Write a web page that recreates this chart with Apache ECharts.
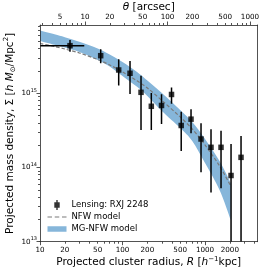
<!DOCTYPE html>
<html><head><meta charset="utf-8">
<script src="https://cdn.jsdelivr.net/npm/echarts@6/dist/echarts.min.js"></script>
<style>html,body{margin:0;padding:0;background:#fff}#c{width:266px;height:272px}</style>
</head><body><div id="c"></div>
<script>
// ---- lensing measurements (R in h^-1 kpc, Sigma in h Msun / Mpc^2) ----
const radius    = [23.1, 54.4, 89.9, 123.3, 167.6, 223.4, 297, 392.6, 514.5, 676.7, 894.4, 1182, 1563, 2067, 2732];
const sigma     = [4.38e15, 3.21e15, 2.06e15, 1.86e15, 1.03e15, 6.68e14, 6.85e14, 9.64e14, 3.68e14, 4.48e14, 2.42e14, 1.87e14, 1.87e14, 7.8e13, 1.37e14];
const sigmaLow  = [3.64e15, 2.54e15, 1.27e15, 9.8e14, 3.2e14, 3.2e14, 3.85e14, 7.24e14, 1.67e14, 2.89e14, 8.6e13, 4.6e13, 5.25e13, 1e12, 1e12];
const sigmaHigh = [5.22e15, 3.92e15, 2.87e15, 2.72e15, 1.72e15, 1.01e15, 9.7e14, 1.2e15, 5.65e14, 6.08e14, 3.94e14, 3.27e14, 3.13e14, 2.08e14, 2.66e14];
const radiusLow  = [5, 54.4, 89.9, 123.3, 167.6, 223.4, 297, 392.6, 514.5, 676.7, 894.4, 1182, 1563, 2067, 2732];
const radiusHigh = [34.4, 54.4, 89.9, 123.3, 167.6, 223.4, 297, 392.6, 514.5, 676.7, 894.4, 1182, 1563, 2067, 2732];

// ---- models ----
const modelRadius = [10, 15, 20, 30, 50, 70, 100, 150, 200, 300, 500, 700, 1000, 1500, 2050];
const nfwSigma = [4.69e15, 4.27e15, 3.95e15, 3.49e15, 2.85e15, 2.41e15, 1.94e15, 1.47e15, 1.18e15, 8.0e14, 4.80e14, 3.30e14, 2.01e14, 1.05e14, 5.63e13];
const mgUpper  = [7.02e15, 6.24e15, 5.70e15, 4.94e15, 4.02e15, 3.33e15, 2.64e15, 1.94e15, 1.49e15, 1.01e15, 5.96e14, 4.10e14, 2.42e14, 1.22e14, 6.18e13];
const mgLower  = [5.07e15, 4.50e15, 4.13e15, 3.60e15, 2.81e15, 2.30e15, 1.71e15, 1.22e15, 9.2e14, 5.78e14, 3.41e14, 2.28e14, 1.15e14, 4.98e13, 1.96e13];

// ---- axes ----
const radiusRange = [10, 4325];
const sigmaRange = [1e13, 8.32e15];
const kpcPerArcsec = 3.51;
const radiusTickLabels = [10, 20, 50, 100, 200, 500, 1000, 2000];
const thetaTickLabels = [5, 10, 20, 50, 100, 200, 500, 1000];
const sigmaTickLabels = [1e13, 1e14, 1e15];

const lg = Math.log10;
const FONT = 'DejaVu Sans';
const LINE = '#262626';
const BAND = '#86b6da';
const NFWCOL = '#7a7a7a';

function logTicks(lo, hi) {
  const major = [], minor = [];
  for (let e = Math.floor(lo) - 1; e <= Math.ceil(hi); e++) {
    for (let k = 1; k < 10; k++) {
      const v = e + lg(k);
      if (v < lo - 1e-9 || v > hi + 1e-9) continue;
      (k === 1 ? major : minor).push(v);
    }
  }
  return {major, minor};
}

const xLo = lg(radiusRange[0]), xHi = lg(radiusRange[1]);
const tOff = lg(kpcPerArcsec);
const tLo = xLo - tOff, tHi = xHi - tOff;
const yLo = lg(sigmaRange[0]), yHi = lg(sigmaRange[1]);
const xT = logTicks(xLo, xHi), tT = logTicks(tLo, tHi), yT = logTicks(yLo, yHi);

const NFS = 10.5;
const richName = {
  i: {fontStyle: 'italic', fontFamily: FONT, fontSize: NFS, lineHeight: 14, color: '#000'},
  sup: {fontFamily: FONT, fontSize: 7, verticalAlign: 'top', lineHeight: 8, color: '#000'},
  sub: {fontFamily: FONT, fontSize: 7, verticalAlign: 'bottom', lineHeight: 8, color: '#000'}
};
const nameStyle = {fontFamily: FONT, fontSize: NFS, lineHeight: 14, color: '#000', rich: richName};

function axis(extra) {
  return Object.assign({
    type: 'value', z: 10, nameMoveOverlap: false,
    splitLine: {show: false},
    axisLine: {show: false, onZero: false, lineStyle: {color: LINE, width: 0.8}},
    axisTick: {show: false},
    axisLabel: {show: false}
  }, extra);
}
const tickStyle = {color: LINE, width: 0.8};
const labelFmt = v => String(Math.round(Math.pow(10, v)));

const xAxes = [
  axis({min: xLo, max: xHi, position: 'bottom',
    axisLine: {show: true, onZero: false, lineStyle: {color: LINE, width: 0.8}},
    axisTick: {show: true, length: 3.5, customValues: xT.major, lineStyle: tickStyle},
    axisLabel: {show: true, customValues: radiusTickLabels.map(lg), formatter: labelFmt,
      fontFamily: FONT, fontSize: 7.2, color: '#000', margin: 4.5, hideOverlap: false},
    name: 'Projected cluster radius, {i|R} [{i|h}{sup|\u22121}kpc]',
    nameLocation: 'middle', nameGap: 13.5, nameTextStyle: nameStyle}),
  axis({min: xLo, max: xHi, position: 'bottom',
    axisTick: {show: true, length: 2, customValues: xT.minor, lineStyle: tickStyle}}),
  axis({min: tLo, max: tHi, position: 'top',
    axisLine: {show: true, onZero: false, lineStyle: {color: LINE, width: 0.8}},
    axisTick: {show: true, length: 3.5, customValues: tT.major, lineStyle: tickStyle},
    axisLabel: {show: true, customValues: thetaTickLabels.map(lg), formatter: labelFmt,
      fontFamily: FONT, fontSize: 7.2, color: '#000', margin: 4.5, hideOverlap: false},
    name: '{i|\u03b8} [arcsec]', nameLocation: 'middle', nameGap: 11, nameTextStyle: nameStyle}),
  axis({min: tLo, max: tHi, position: 'top',
    axisTick: {show: true, length: 2, customValues: tT.minor, lineStyle: tickStyle}})
];

const yAxes = [
  axis({min: yLo, max: yHi, position: 'left',
    axisLine: {show: true, onZero: false, lineStyle: {color: LINE, width: 0.8}},
    axisTick: {show: true, length: 3.5, customValues: yT.major, lineStyle: tickStyle},
    axisLabel: {show: true, customValues: sigmaTickLabels.map(lg),
      formatter: v => '{m|10}{s|' + Math.round(v) + '}', margin: 3, hideOverlap: false,
      rich: {
        m: {fontFamily: FONT, fontSize: 7.2, lineHeight: 11, color: '#000'},
        s: {fontFamily: FONT, fontSize: 5, lineHeight: 6, verticalAlign: 'top', color: '#000'}
      }},
    name: 'Projected mass density, \u03a3 [{i|h M}{sub|\u2299}/Mpc{sup|2}]',
    nameLocation: 'middle', nameRotate: 90, nameGap: 23, nameTextStyle: nameStyle}),
  axis({min: yLo, max: yHi, position: 'left',
    axisTick: {show: true, length: 2, customValues: yT.minor, lineStyle: tickStyle}}),
  axis({min: yLo, max: yHi, position: 'right',
    axisLine: {show: true, onZero: false, lineStyle: {color: LINE, width: 0.8}}})
];

function crPath(pts) {
  let d = '';
  for (let i = 0; i < pts.length - 1; i++) {
    const p0 = pts[Math.max(i - 1, 0)], p1 = pts[i], p2 = pts[i + 1], p3 = pts[Math.min(i + 2, pts.length - 1)];
    const c1 = [p1[0] + (p2[0] - p0[0]) / 6, p1[1] + (p2[1] - p0[1]) / 6];
    const c2 = [p2[0] - (p3[0] - p1[0]) / 6, p2[1] - (p3[1] - p1[1]) / 6];
    d += 'C' + c1[0] + ',' + c1[1] + ' ' + c2[0] + ',' + c2[1] + ' ' + p2[0] + ',' + p2[1];
  }
  return d;
}

function renderBand(params, api) {
  if (params.dataIndex !== 0) return null;
  const up = modelRadius.map((r, i) => api.coord([lg(r), lg(mgUpper[i])]));
  const lo = modelRadius.map((r, i) => api.coord([lg(r), lg(mgLower[i])])).reverse();
  let d = 'M' + up[0][0] + ',' + up[0][1] + crPath(up);
  d += 'L' + lo[0][0] + ',' + lo[0][1] + crPath(lo) + 'Z';
  return {type: 'path', shape: {pathData: d}, style: {fill: BAND, stroke: 'none', lineWidth: 0}};
}

function renderErr(params, api) {
  const x = api.value(0), lo = api.value(1), hi = api.value(2), xl = api.value(3), xh = api.value(4), y = api.value(5);
  const a = api.coord([x, lo]), b = api.coord([x, hi]);
  const st = {stroke: '#000', lineWidth: 1.5};
  const ch = [{type: 'line', shape: {x1: a[0], y1: a[1], x2: b[0], y2: b[1]}, style: st}];
  if (xh - xl > 1e-6) {
    const c = api.coord([xl, y]), e = api.coord([xh, y]);
    ch.push({type: 'line', shape: {x1: c[0], y1: c[1], x2: e[0], y2: e[1]}, style: st});
  }
  return {type: 'group', children: ch};
}

const lensIcon = 'path://M0,5L0.01,5L0.01,5.01Z M19,5L18.99,5L18.99,5.01Z M8.8,0L10.2,0L10.2,2.3L12.2,2.3L12.2,7.7L10.2,7.7L10.2,10L8.8,10L8.8,7.7L6.8,7.7L6.8,2.3L8.8,2.3Z';
const dashIcon = 'path://M0,4.4L4.5,4.4L4.5,5.6L0,5.6Z M7.25,4.4L11.75,4.4L11.75,5.6L7.25,5.6Z M14.5,4.4L19,4.4L19,5.6L14.5,5.6Z M9.5,0L9.51,0L9.51,0.01Z M9.5,10L9.51,10L9.51,9.99Z';
const bandIcon = 'path://M0,2.2L19,2.2L19,7.8L0,7.8Z M9,0L9.01,0L9.01,0.01Z M9,10L9.01,10L9.01,9.99Z';

const chart = echarts.init(document.getElementById('c'), null, {renderer: 'canvas'});
chart.setOption({
  animation: false,
  backgroundColor: '#fff',
  grid: {left: 40, right: 8.5, top: 25, bottom: 30.3, containLabel: false, outerBoundsMode: 'none'},
  xAxis: xAxes,
  yAxis: yAxes,
  legend: {
    orient: 'vertical', left: 47.5, top: 200, itemWidth: 19, itemHeight: 10, itemGap: 2,
    selectedMode: false, padding: 0,
    textStyle: {fontFamily: FONT, fontSize: 8.5, color: '#000'},
    itemStyle: {borderWidth: 0},
    data: [
      {name: 'Lensing: RXJ 2248', icon: lensIcon},
      {name: 'NFW model', icon: dashIcon},
      {name: 'MG-NFW model', icon: bandIcon}
    ]
  },
  series: [
    {type: 'custom', name: 'MG-NFW model', renderItem: renderBand, clip: true, z: 1, silent: true,
      itemStyle: {color: BAND},
      encode: {x: 0, y: [1, 2]},
      data: modelRadius.map((r, i) => [lg(r), lg(mgUpper[i]), lg(mgLower[i])])},
    {type: 'line', name: 'NFW model', symbol: 'none', smooth: 0.3, z: 2, silent: true,
      lineStyle: {color: NFWCOL, width: 1.2, type: [3.5, 2]},
      itemStyle: {color: NFWCOL},
      data: modelRadius.map((r, i) => [lg(r), lg(nfwSigma[i])])},
    {type: 'custom', name: 'errorbars', renderItem: renderErr, clip: true, z: 3, silent: true,
      encode: {x: 0, y: [1, 2]},
      data: radius.map((r, i) => [lg(r), lg(sigmaLow[i]), lg(sigmaHigh[i]), lg(radiusLow[i]), lg(radiusHigh[i]), lg(sigma[i])])},
    {type: 'scatter', name: 'Lensing: RXJ 2248', symbol: 'rect', symbolSize: 5.5, z: 4, silent: true,
      itemStyle: {color: '#000'},
      data: radius.map((r, i) => [lg(r), lg(sigma[i])])}
  ]
});
</script>
</body></html>
